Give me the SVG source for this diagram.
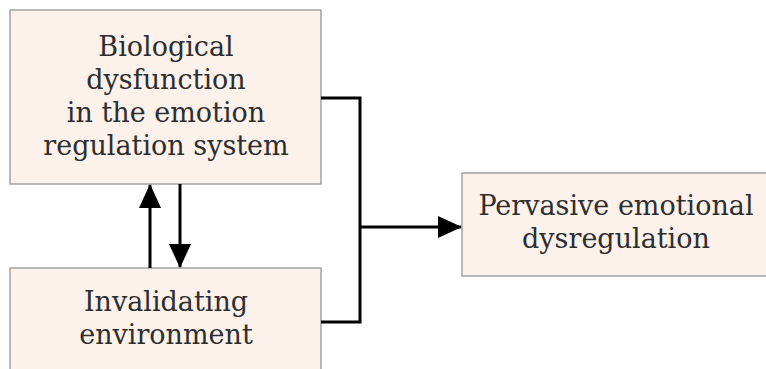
<svg xmlns="http://www.w3.org/2000/svg" width="766" height="369" viewBox="0 0 766 369">
<style>
.box{fill:#fcf1eb;stroke:#a3a3a3;stroke-width:1.5}
.t{font-family:"DejaVu Serif","Liberation Serif",serif;font-size:27px;fill:#2e2e2e;text-anchor:middle}
.c{fill:none;stroke:#000;stroke-width:3}
</style>
<defs>
<marker id="ah" viewBox="0 0 24 22" refX="23" refY="11" markerWidth="24" markerHeight="22" markerUnits="userSpaceOnUse" orient="auto">
<path d="M0,0 L24,11 L0,22 Z" fill="#000"/>
</marker>
</defs>
<rect width="766" height="369" fill="#fff"/>
<g id="node-bio">
<rect class="box" x="10" y="10" width="311" height="174"/>
<text class="t" x="166" y="56">Biological</text>
<text class="t" x="166" y="89">dysfunction</text>
<text class="t" x="166" y="122">in the emotion</text>
<text class="t" x="166" y="155">regulation system</text>
</g>
<g id="node-env">
<rect class="box" x="10" y="268" width="311" height="110"/>
<text class="t" x="166" y="311">Invalidating</text>
<text class="t" x="166" y="344">environment</text>
</g>
<g id="node-ped">
<rect class="box" x="462" y="173" width="310" height="103"/>
<text class="t" x="616" y="215">Pervasive emotional</text>
<text class="t" x="616" y="248">dysregulation</text>
</g>
<g id="connectors">
<path class="c" d="M150,268 L150,185" marker-end="url(#ah)"/>
<path class="c" d="M180,184 L180,267" marker-end="url(#ah)"/>
<path class="c" d="M321,98 L360,98 L360,322 L321,322"/>
<path class="c" d="M360,227 L461,227" marker-end="url(#ah)"/>
</g>
</svg>
